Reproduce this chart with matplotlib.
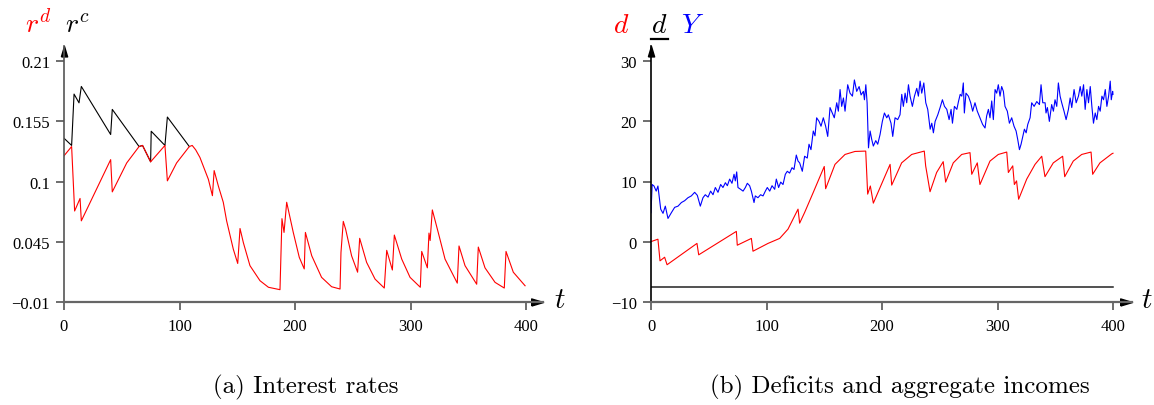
import numpy as np
import matplotlib.pyplot as plt
from matplotlib.lines import Line2D

# r^d (red) and r^c (black), panel (a)
rd_t = [0, 6.6, 9.2, 13.9, 15, 40.4, 41.8, 54.3, 65, 68, 75, 87.4, 89.5, 97.5, 108.5, 111, 114,
        117.7, 125, 128.5, 130, 133.6, 137.9, 140.8, 146.6, 150.4, 152.4, 155.3, 161, 169.7, 177,
        187, 188.7, 190.5, 192.8, 198.5, 203.7, 208, 209, 214.5, 223, 231.7, 239, 239.8, 241.8,
        243.8, 249, 254.2, 256, 262, 269.3, 277.3, 279.4, 284.3, 286, 292.4, 299.6, 308.5, 309.7,
        314.6, 316, 317, 318.9, 324, 329.9, 340.5, 342, 347.2, 357.3, 358.7, 364.5, 373.2, 381.2,
        382.7, 389, 399.2]
rd_v = [0.1235, 0.132, 0.073, 0.0845, 0.064, 0.12, 0.0905, 0.117, 0.132, 0.133, 0.118, 0.133,
        0.1006, 0.117, 0.132, 0.133, 0.129, 0.122, 0.102, 0.087, 0.11, 0.096, 0.081, 0.064, 0.038,
        0.025, 0.057, 0.044, 0.023, 0.0092, 0.0032, 0.001, 0.066, 0.0534, 0.081, 0.0534, 0.0306,
        0.02, 0.0534, 0.032, 0.0123, 0.0037, 0.0016, 0.035, 0.0635, 0.0565, 0.032, 0.017, 0.048,
        0.026, 0.0107, 0.0025, 0.037, 0.019, 0.051, 0.029, 0.0123, 0.0032, 0.036, 0.021, 0.0528,
        0.046, 0.074, 0.0534, 0.029, 0.007, 0.041, 0.023, 0.006, 0.04, 0.021, 0.0077, 0.0025,
        0.036, 0.017, 0.0046]
rc_t = [0, 6.6, 8.7, 13, 15, 40.4, 41.8, 65, 68, 75, 75.5, 87.4, 89.5, 108.5]
rc_v = [0.1396, 0.133, 0.18, 0.172, 0.187, 0.143, 0.166, 0.132, 0.133, 0.118, 0.146, 0.133,
        0.159, 0.132]

# d (red), Y (blue), d_bar (black), panel (b)
d_t = [0, 6, 7.8, 11.8, 13.9, 39.8, 41.3, 73.9, 74.7, 86.9, 88.3, 101.3, 111.4, 118.6, 127.3,
       128.7, 133, 140.3, 150, 151.2, 159.3, 168, 176.6, 185.9, 187.6, 189.9, 192.5, 202.6, 207,
       208.4, 217, 225.7, 236.6, 237.8, 241.6, 247.3, 253, 255.1, 261.7, 269, 276.2, 277.7, 282.5,
       284.8, 293.5, 300.7, 308, 309.4, 313.2, 314.6, 316.5, 318.3, 325.3, 332.5, 338.3, 341.1,
       348.3, 356.4, 358.2, 365.6, 372.9, 381, 382.4, 388.7, 398.9, 400]
d_v = [0, 0.4, -3.2, -2.6, -3.85, -0.3, -2.2, 1.7, -0.6, 0.53, -1.6, -0.3, 0.53, 2.07, 5.4,
       3.07, 4.84, 8.1, 12.5, 8.8, 12.85, 14.5, 15.0, 15.06, 7.9, 9.25, 6.4, 10.9, 12.85, 9.4,
       13.1, 14.5, 15.06, 12.6, 8.3, 11.5, 13.3, 9.9, 13.1, 14.5, 14.8, 11.2, 13.1, 9.5, 13.4,
       14.5, 14.9, 11.5, 12.6, 9.5, 10.1, 7.05, 10.4, 12.85, 14.2, 10.8, 13.1, 14.2, 10.8, 13.4,
       14.5, 14.9, 11.2, 13.1, 14.6, 14.7]
y_t = [0, 1, 2.6, 4.5, 6, 8.4, 10.4, 12.4, 14.7, 17.6, 20.5, 23.4, 26.3, 29.1, 32, 34.9, 37.8,
       40.1, 42.7, 45, 47, 49.4, 51.6, 53.7, 55.7, 58, 60.3, 62.3, 64.4, 66.1, 68.1, 70.1, 71.9,
       73, 74.2, 75.3, 77.6, 79.7, 81.7, 83.4, 85.4, 86.9, 89.2, 90.3, 92.6, 94.9, 97, 99, 100.7,
       102.8, 104.8, 107.1, 108.5, 110.5, 112.3, 114.3, 116.3, 118, 120, 122.1, 123.8, 125.8,
       127.3, 128.7, 131, 133, 135.3, 136.8, 138.5, 140.5, 142, 143.4, 145.5, 147.2, 149.2, 151.2,
       153, 155, 157, 158.7, 160.8, 162.2, 163.7, 165.1, 166.6, 168, 170.3, 172.3, 174.4, 176.1,
       178.1, 180.2, 181.9, 183.9, 184.8, 186, 187.1, 188.3, 189.7, 191.1, 192.5, 194.6, 196.3,
       198.3, 200.3, 202.1, 204.1, 205.5, 207.8, 209.3, 211.3, 213.6, 215.6, 217.1, 218.5, 220,
       221.4, 222.9, 224.3, 226.3, 228.1, 230.1, 231.5, 233, 234.4, 236.2, 237.9, 239.6, 241.7,
       243.1, 244.5, 246, 248.3, 250.3, 252.3, 254.1, 256.1, 258.1, 259.8, 261, 262.7, 264.8,
       266.2, 267.7, 269.1, 270.4, 271.3, 272.7, 274.8, 276.8, 278.5, 280.5, 282.5, 284.8, 287.1,
       289.2, 290.6, 292.1, 293.5, 295, 296.4, 297.9, 299.3, 300.7, 302.2, 303.6, 305.1, 306.5,
       308.5, 310.3, 312.3, 314.3, 316.1, 317.5, 319, 320.4, 321.9, 323.3, 324.8, 326.2, 328.2,
       329.6, 331.7, 334, 336.3, 337.7, 339.2, 341.2, 342, 343.2, 344.9, 346.9, 348.4, 349.8,
       351.3, 352.7, 354.2, 355.6, 357.6, 359.4, 361.4, 362.9, 364.3, 366.3, 368.1, 370.1, 371.6,
       373, 374.5, 375.9, 377.4, 378.8, 380.3, 381.7, 383.1, 384.6, 386, 387.5, 388.9, 390.4,
       391.8, 393.3, 394.7, 396.2, 397.6, 398.5, 399.7, 400]
y_v = [4.8, 9.5, 9.25, 8.4, 9.25, 5.4, 4.7, 5.9, 3.85, 4.8, 5.7, 5.9, 6.5, 6.8, 7.3, 7.6, 8.2,
       7.7, 5.9, 7.3, 7.8, 7.4, 8.4, 7.8, 9.0, 8.2, 9.5, 9.0, 9.8, 9.3, 10.4, 9.7, 11.2, 10.1,
       11.6, 9.0, 8.7, 8.4, 9.0, 9.7, 9.3, 8.4, 6.5, 7.6, 7.3, 7.8, 7.6, 8.4, 9.0, 8.4, 9.3, 8.7,
       10.4, 9.0, 9.9, 9.5, 11.2, 11.7, 11.4, 12.3, 12.0, 14.4, 13.4, 13.1, 11.7, 14.2, 13.9,
       16.2, 15.3, 18.4, 17.6, 20.6, 20.0, 19.2, 20.6, 19.2, 17.5, 22.3, 21.4, 20.6, 23.1, 21.7,
       25.3, 22.5, 23.9, 21.7, 26.1, 24.7, 24.2, 26.9, 25.0, 25.8, 24.4, 25.0, 23.6, 26.1, 23.1,
       15.6, 18.4, 17.0, 15.9, 16.8, 16.2, 17.8, 20.0, 21.4, 20.6, 21.1, 19.7, 17.5, 20.6, 20.3,
       21.1, 24.5, 22.5, 24.7, 23.1, 26.1, 24.2, 22.5, 24.2, 25.5, 24.2, 26.7, 24.7, 26.4, 23.1,
       22.0, 18.7, 19.7, 18.1, 20.0, 21.1, 22.3, 23.6, 22.5, 22.0, 20.3, 22.0, 19.7, 22.5, 22.0,
       23.3, 24.5, 24.2, 26.4, 21.4, 24.7, 24.2, 23.1, 21.7, 23.1, 21.7, 20.6, 19.5, 18.9, 20.9,
       22.0, 20.6, 23.4, 20.3, 25.3, 24.7, 26.1, 24.2, 25.8, 25.0, 22.5, 21.7, 19.7, 20.6, 19.2,
       18.4, 17.0, 15.3, 16.2, 17.5, 18.7, 18.1, 19.5, 20.6, 23.1, 22.5, 23.3, 22.8, 26.1, 23.1,
       23.1, 21.4, 22.3, 20.0, 22.8, 21.7, 23.6, 22.5, 26.4, 24.2, 23.1, 21.7, 20.3, 22.0, 23.9,
       22.3, 25.3, 23.1, 24.2, 25.8, 24.2, 26.1, 22.0, 25.3, 23.1, 25.8, 22.5, 19.7, 21.4, 20.3,
       22.5, 21.7, 24.2, 23.6, 25.3, 22.5, 24.2, 26.7, 23.6, 25.0, 24.5]
dbar = -7.5

x_ticks = [0, 100, 200, 300, 400]
ra_ticks = [-0.01, 0.045, 0.1, 0.155, 0.21]
ra_labels = ['\u22120.01', '0.045', '0.1', '0.155', '0.21']
rb_ticks = [-10, 0, 10, 20, 30]
rb_labels = ['\u221210', '0', '10', '20', '30']

plt.rcParams['mathtext.fontset'] = 'cm'

W, H = 1154, 406
fig = plt.figure(figsize=(W / 100, H / 100), dpi=100)


def px_axes(x0, x1, y_top, y_bot):
    # axes from pixel box
    return fig.add_axes([x0 / W, 1 - y_bot / H, (x1 - x0) / W, (y_bot - y_top) / H])


def style(ax, yticks, ylabels, ycol):
    ax.spines['top'].set_visible(False)
    ax.spines['right'].set_visible(False)
    ax.spines['bottom'].set_color('#666666')
    ax.spines['bottom'].set_linewidth(1.6)
    ax.spines['left'].set_color(ycol)
    ax.spines['left'].set_linewidth(1.2)
    ax.set_xticks(x_ticks)
    ax.set_yticks(yticks)
    ax.set_yticklabels(ylabels)
    ax.tick_params(axis='both', direction='out', length=6, width=1.2, color='#555555',
                   labelsize=12, pad=4)
    ax.tick_params(axis='x', pad=6)
    for lab in ax.get_xticklabels() + ax.get_yticklabels():
        lab.set_family('Liberation Serif')
    # arrow heads at the axis ends
    ax.plot(1, 0, marker=[(-2, -0.6), (0, 0), (-2, 0.6), (-2, -0.6)], ms=17, color='k',
            transform=ax.transAxes, clip_on=False)
    ax.plot(0, 1, marker=[(-0.6, -2), (0, 0), (0.6, -2), (-0.6, -2)], ms=15, color='k',
            transform=ax.transAxes, clip_on=False)


# panel (a)
ax1 = px_axes(64, 543, 46.7, 302.7)
ax1.plot(rc_t, rc_v, color='black', lw=0.8)
ax1.plot(rd_t, rd_v, color='red', lw=0.8)
ax1.set_xlim(0, (543 - 64) / 1.155)
ax1.set_ylim(-0.01, -0.01 + 256 / 1092.7)
style(ax1, ra_ticks, ra_labels, '#555555')

# panel (b)
ax2 = px_axes(651, 1132, 46.7, 302.7)
ax2.plot(y_t, y_v, color='blue', lw=0.8)
ax2.plot(d_t, d_v, color='red', lw=0.8)
ax2.plot([0, 400], [dbar, dbar], color='#222222', lw=1.1)
ax2.set_xlim(0, (1132 - 651) / 1.155)
ax2.set_ylim(-10, -10 + 256 / 6.01)
style(ax2, rb_ticks, rb_labels, 'black')

# axis names
fs = 20
fig.text(25 / W, 1 - 33 / H, r'$r^d$', color='red', fontsize=fs, va='baseline')
fig.text(65 / W, 1 - 33 / H, r'$r^c$', color='black', fontsize=fs, va='baseline')
fig.text(554 / W, 1 - 300 / H, r'$t$', fontsize=fs + 1, va='center')
fig.text(613 / W, 1 - 33 / H, r'$d$', color='red', fontsize=fs, va='baseline')
fig.text(651 / W, 1 - 33 / H, r'$d$', color='black', fontsize=fs, va='baseline')
fig.add_artist(Line2D([651 / W, 668 / W], [1 - 40 / H, 1 - 40 / H], color='black', lw=1.6))
fig.text(681 / W, 1 - 33 / H, r'$Y$', color='blue', fontsize=fs, va='baseline')
fig.text(1141 / W, 1 - 300 / H, r'$t$', fontsize=fs + 1, va='center')

# captions
fig.text(306 / W, 1 - 387 / H, '(a) Interest rates', family='cmr10', fontsize=18,
         ha='center', va='center')
fig.text(900 / W, 1 - 387 / H, '(b) Deficits and aggregate incomes', family='cmr10',
         fontsize=18, ha='center', va='center')

fig.savefig('out.png', dpi=100)
